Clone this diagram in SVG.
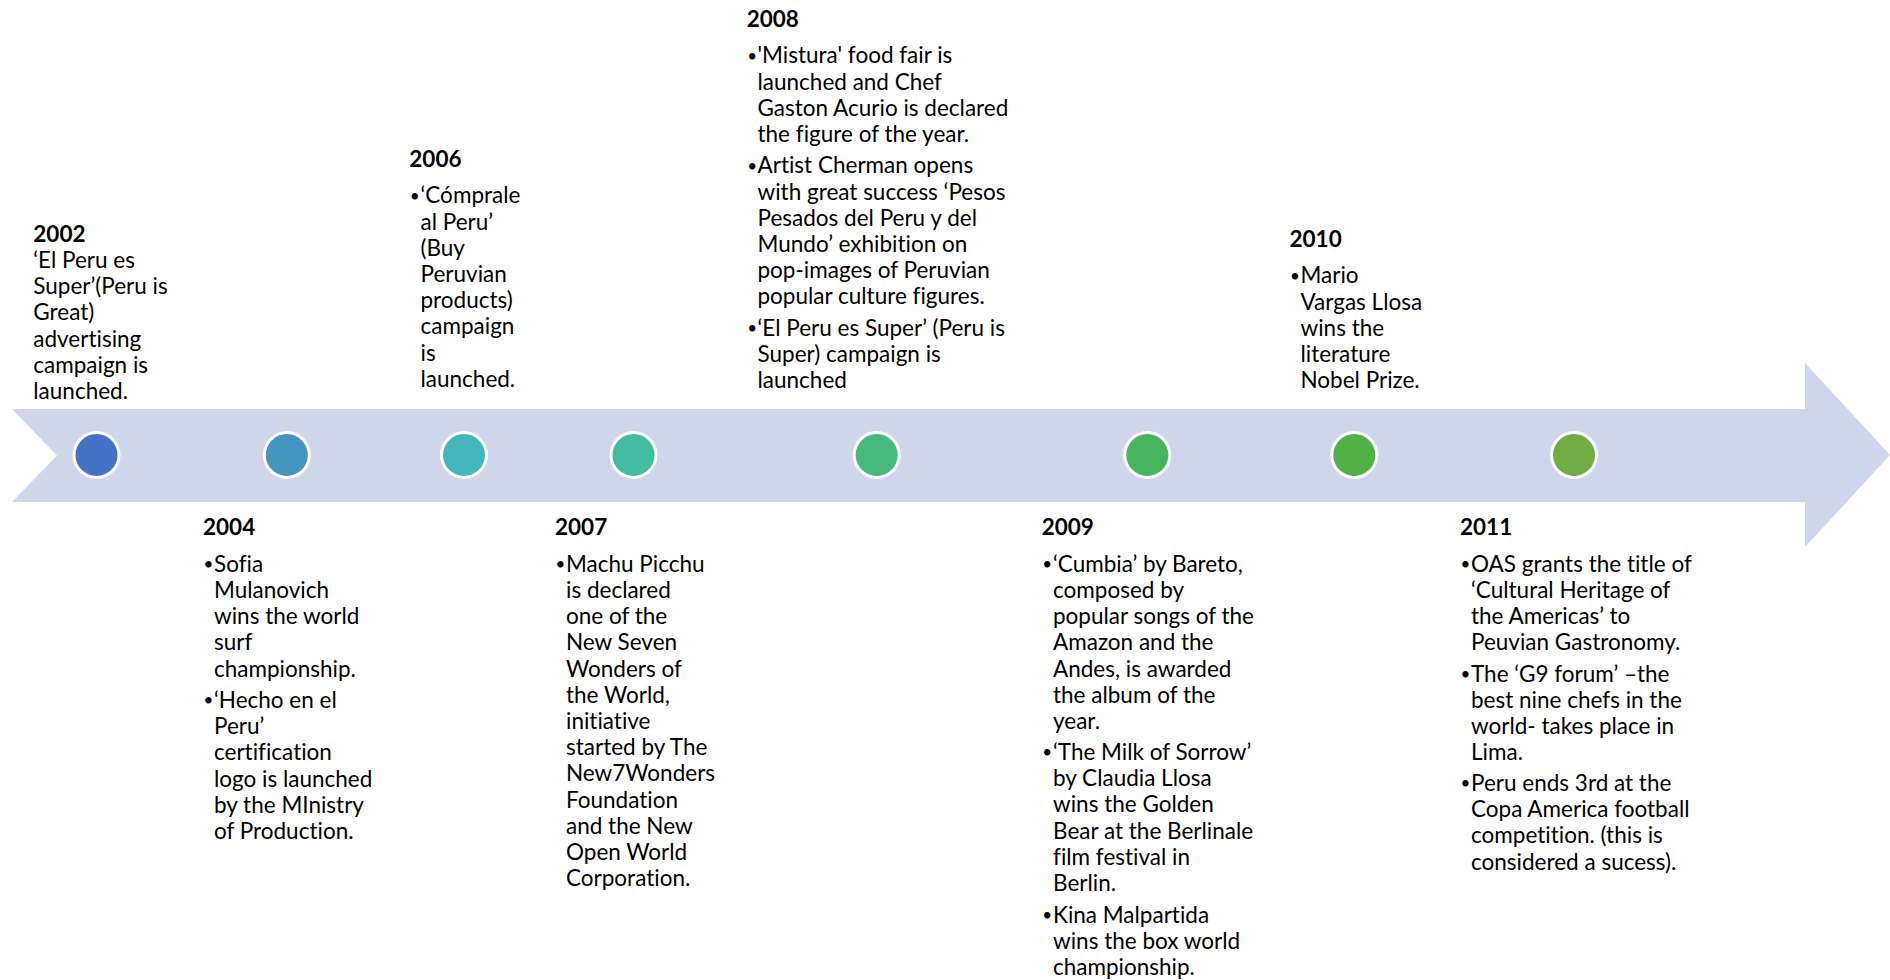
<svg xmlns="http://www.w3.org/2000/svg" width="1890" height="980" viewBox="0 0 1890 980">
<style>
text{font-family:Lato,"Liberation Sans",sans-serif;font-size:22.5px;fill:#000;font-variant-ligatures:none}
.yr{font-weight:bold}
.b{font-size:17px}
.dot{stroke:#fff;stroke-width:3}
</style>
<rect width="1890" height="980" fill="#fff"/>
<g id="connectors">
<polygon id="timeline-arrow" points="12,409 1805,409 1805,363 1890,455 1805,547 1805,502 12,502 57,455.5" fill="#CFD5EA"/>
</g>
<g id="e2002">
<circle class="dot" cx="96.5" cy="455" r="22.5" fill="#4472C4"/>
<text class="yr" x="33.3" y="241.7">2002</text>
<text x="33.3"><tspan x="33.3" y="267.7">‘El Peru es</tspan><tspan x="33.3" y="294">Super’(Peru is</tspan><tspan x="33.3" y="320.3">Great)</tspan><tspan x="33.3" y="346.6">advertising</tspan><tspan x="33.3" y="372.9">campaign is</tspan><tspan x="33.3" y="399.2">launched.</tspan></text>
</g>
<g id="e2004">
<circle class="dot" cx="286.8" cy="455" r="22.5" fill="#4496C0"/>
<text class="yr" x="203" y="535">2004</text>
<text class="b" x="203.5" y="570">•</text><text class="b" x="203.5" y="706.3">•</text>
<text><tspan x="214" y="571.7">Sofia</tspan><tspan x="214" y="597.9">Mulanovich</tspan><tspan x="214" y="624.1">wins the world</tspan><tspan x="214" y="650.3">surf</tspan><tspan x="214" y="676.5">championship.</tspan><tspan x="214" y="708">‘Hecho en el</tspan><tspan x="214" y="734.2">Peru’</tspan><tspan x="214" y="760.4">certification</tspan><tspan x="214" y="786.6">logo is launched</tspan><tspan x="214" y="812.8">by the MInistry</tspan><tspan x="214" y="839">of Production.</tspan></text>
</g>
<g id="e2006">
<circle class="dot" cx="464" cy="455" r="22.5" fill="#44B7BC"/>
<text class="yr" x="409.3" y="166.7">2006</text>
<text class="b" x="409.8" y="201.6">•</text>
<text><tspan x="420.5" y="203.3">‘Cómprale</tspan><tspan x="420.5" y="229.5">al Peru’</tspan><tspan x="420.5" y="255.7">(Buy</tspan><tspan x="420.5" y="281.9">Peruvian</tspan><tspan x="420.5" y="308.1">products)</tspan><tspan x="420.5" y="334.3">campaign</tspan><tspan x="420.5" y="360.5">is</tspan><tspan x="420.5" y="386.7">launched.</tspan></text>
</g>
<g id="e2007">
<circle class="dot" cx="633.5" cy="455" r="22.5" fill="#44BC9F"/>
<text class="yr" x="555" y="535">2007</text>
<text class="b" x="555.5" y="570">•</text>
<text><tspan x="566" y="571.7">Machu Picchu</tspan><tspan x="566" y="597.9">is declared</tspan><tspan x="566" y="624.1">one of the</tspan><tspan x="566" y="650.3">New Seven</tspan><tspan x="566" y="676.5">Wonders of</tspan><tspan x="566" y="702.7">the World,</tspan><tspan x="566" y="728.9">initiative</tspan><tspan x="566" y="755.1">started by The</tspan><tspan x="566" y="781.3">New7Wonders</tspan><tspan x="566" y="807.5">Foundation</tspan><tspan x="566" y="833.7">and the New</tspan><tspan x="566" y="859.9">Open World</tspan><tspan x="566" y="886.1">Corporation.</tspan></text>
</g>
<g id="e2008">
<circle class="dot" cx="876.7" cy="455" r="22.5" fill="#46B97D"/>
<text class="yr" x="746.7" y="26.7">2008</text>
<text class="b" x="747.2" y="61.6">•</text><text class="b" x="747.2" y="171.6">•</text><text class="b" x="747.2" y="334.1">•</text>
<text><tspan x="757.5" y="63.3">'Mistura' food fair is</tspan><tspan x="757.5" y="89.5">launched and Chef</tspan><tspan x="757.5" y="115.7">Gaston Acurio is declared</tspan><tspan x="757.5" y="141.9">the figure of the year.</tspan><tspan x="757.5" y="173.3">Artist Cherman opens</tspan><tspan x="757.5" y="199.5">with great success ‘Pesos</tspan><tspan x="757.5" y="225.7">Pesados del Peru y del</tspan><tspan x="757.5" y="251.9">Mundo’ exhibition on</tspan><tspan x="757.5" y="278.1">pop-images of Peruvian</tspan><tspan x="757.5" y="304.3">popular culture figures.</tspan><tspan x="757.5" y="335.8">‘El Peru es Super’ (Peru is</tspan><tspan x="757.5" y="362">Super) campaign is</tspan><tspan x="757.5" y="388.2">launched</tspan></text>
</g>
<g id="e2009">
<circle class="dot" cx="1147.3" cy="455" r="22.5" fill="#46B55D"/>
<text class="yr" x="1041.7" y="535">2009</text>
<text class="b" x="1042.2" y="570">•</text><text class="b" x="1042.2" y="758.3">•</text><text class="b" x="1042.2" y="920.8">•</text>
<text><tspan x="1053" y="571.7">‘Cumbia’ by Bareto,</tspan><tspan x="1053" y="597.9">composed by</tspan><tspan x="1053" y="624.1">popular songs of the</tspan><tspan x="1053" y="650.3">Amazon and the</tspan><tspan x="1053" y="676.5">Andes, is awarded</tspan><tspan x="1053" y="702.7">the album of the</tspan><tspan x="1053" y="728.9">year.</tspan><tspan x="1053" y="760">‘The Milk of Sorrow’</tspan><tspan x="1053" y="786.2">by Claudia Llosa</tspan><tspan x="1053" y="812.4">wins the Golden</tspan><tspan x="1053" y="838.6">Bear at the Berlinale</tspan><tspan x="1053" y="864.8">film festival in</tspan><tspan x="1053" y="891">Berlin.</tspan><tspan x="1053" y="922.5">Kina Malpartida</tspan><tspan x="1053" y="948.7">wins the box world</tspan><tspan x="1053" y="974.9">championship.</tspan></text>
</g>
<g id="e2010">
<circle class="dot" cx="1354.3" cy="455" r="22.5" fill="#52B146"/>
<text class="yr" x="1289.5" y="246.7">2010</text>
<text class="b" x="1290" y="281.6">•</text>
<text><tspan x="1300.5" y="283.3">Mario</tspan><tspan x="1300.5" y="309.5">Vargas Llosa</tspan><tspan x="1300.5" y="335.7">wins the</tspan><tspan x="1300.5" y="361.9">literature</tspan><tspan x="1300.5" y="388.1">Nobel Prize.</tspan></text>
</g>
<g id="e2011">
<circle class="dot" cx="1574" cy="455" r="22.5" fill="#70AD47"/>
<text class="yr" x="1460" y="535">2011</text>
<text class="b" x="1460.5" y="570">•</text><text class="b" x="1460.5" y="680">•</text><text class="b" x="1460.5" y="789.3">•</text>
<text><tspan x="1471" y="571.7">OAS grants the title of</tspan><tspan x="1471" y="597.9">‘Cultural Heritage of</tspan><tspan x="1471" y="624.1">the Americas’ to</tspan><tspan x="1471" y="650.3">Peuvian Gastronomy.</tspan><tspan x="1471" y="681.7">The ‘G9 forum’ –the</tspan><tspan x="1471" y="707.9">best nine chefs in the</tspan><tspan x="1471" y="734.1">world- takes place in</tspan><tspan x="1471" y="760.3">Lima.</tspan><tspan x="1471" y="791">Peru ends 3rd at the</tspan><tspan x="1471" y="817.2">Copa America football</tspan><tspan x="1471" y="843.4">competition. (this is</tspan><tspan x="1471" y="869.6">considered a sucess).</tspan></text>
</g>
</svg>
